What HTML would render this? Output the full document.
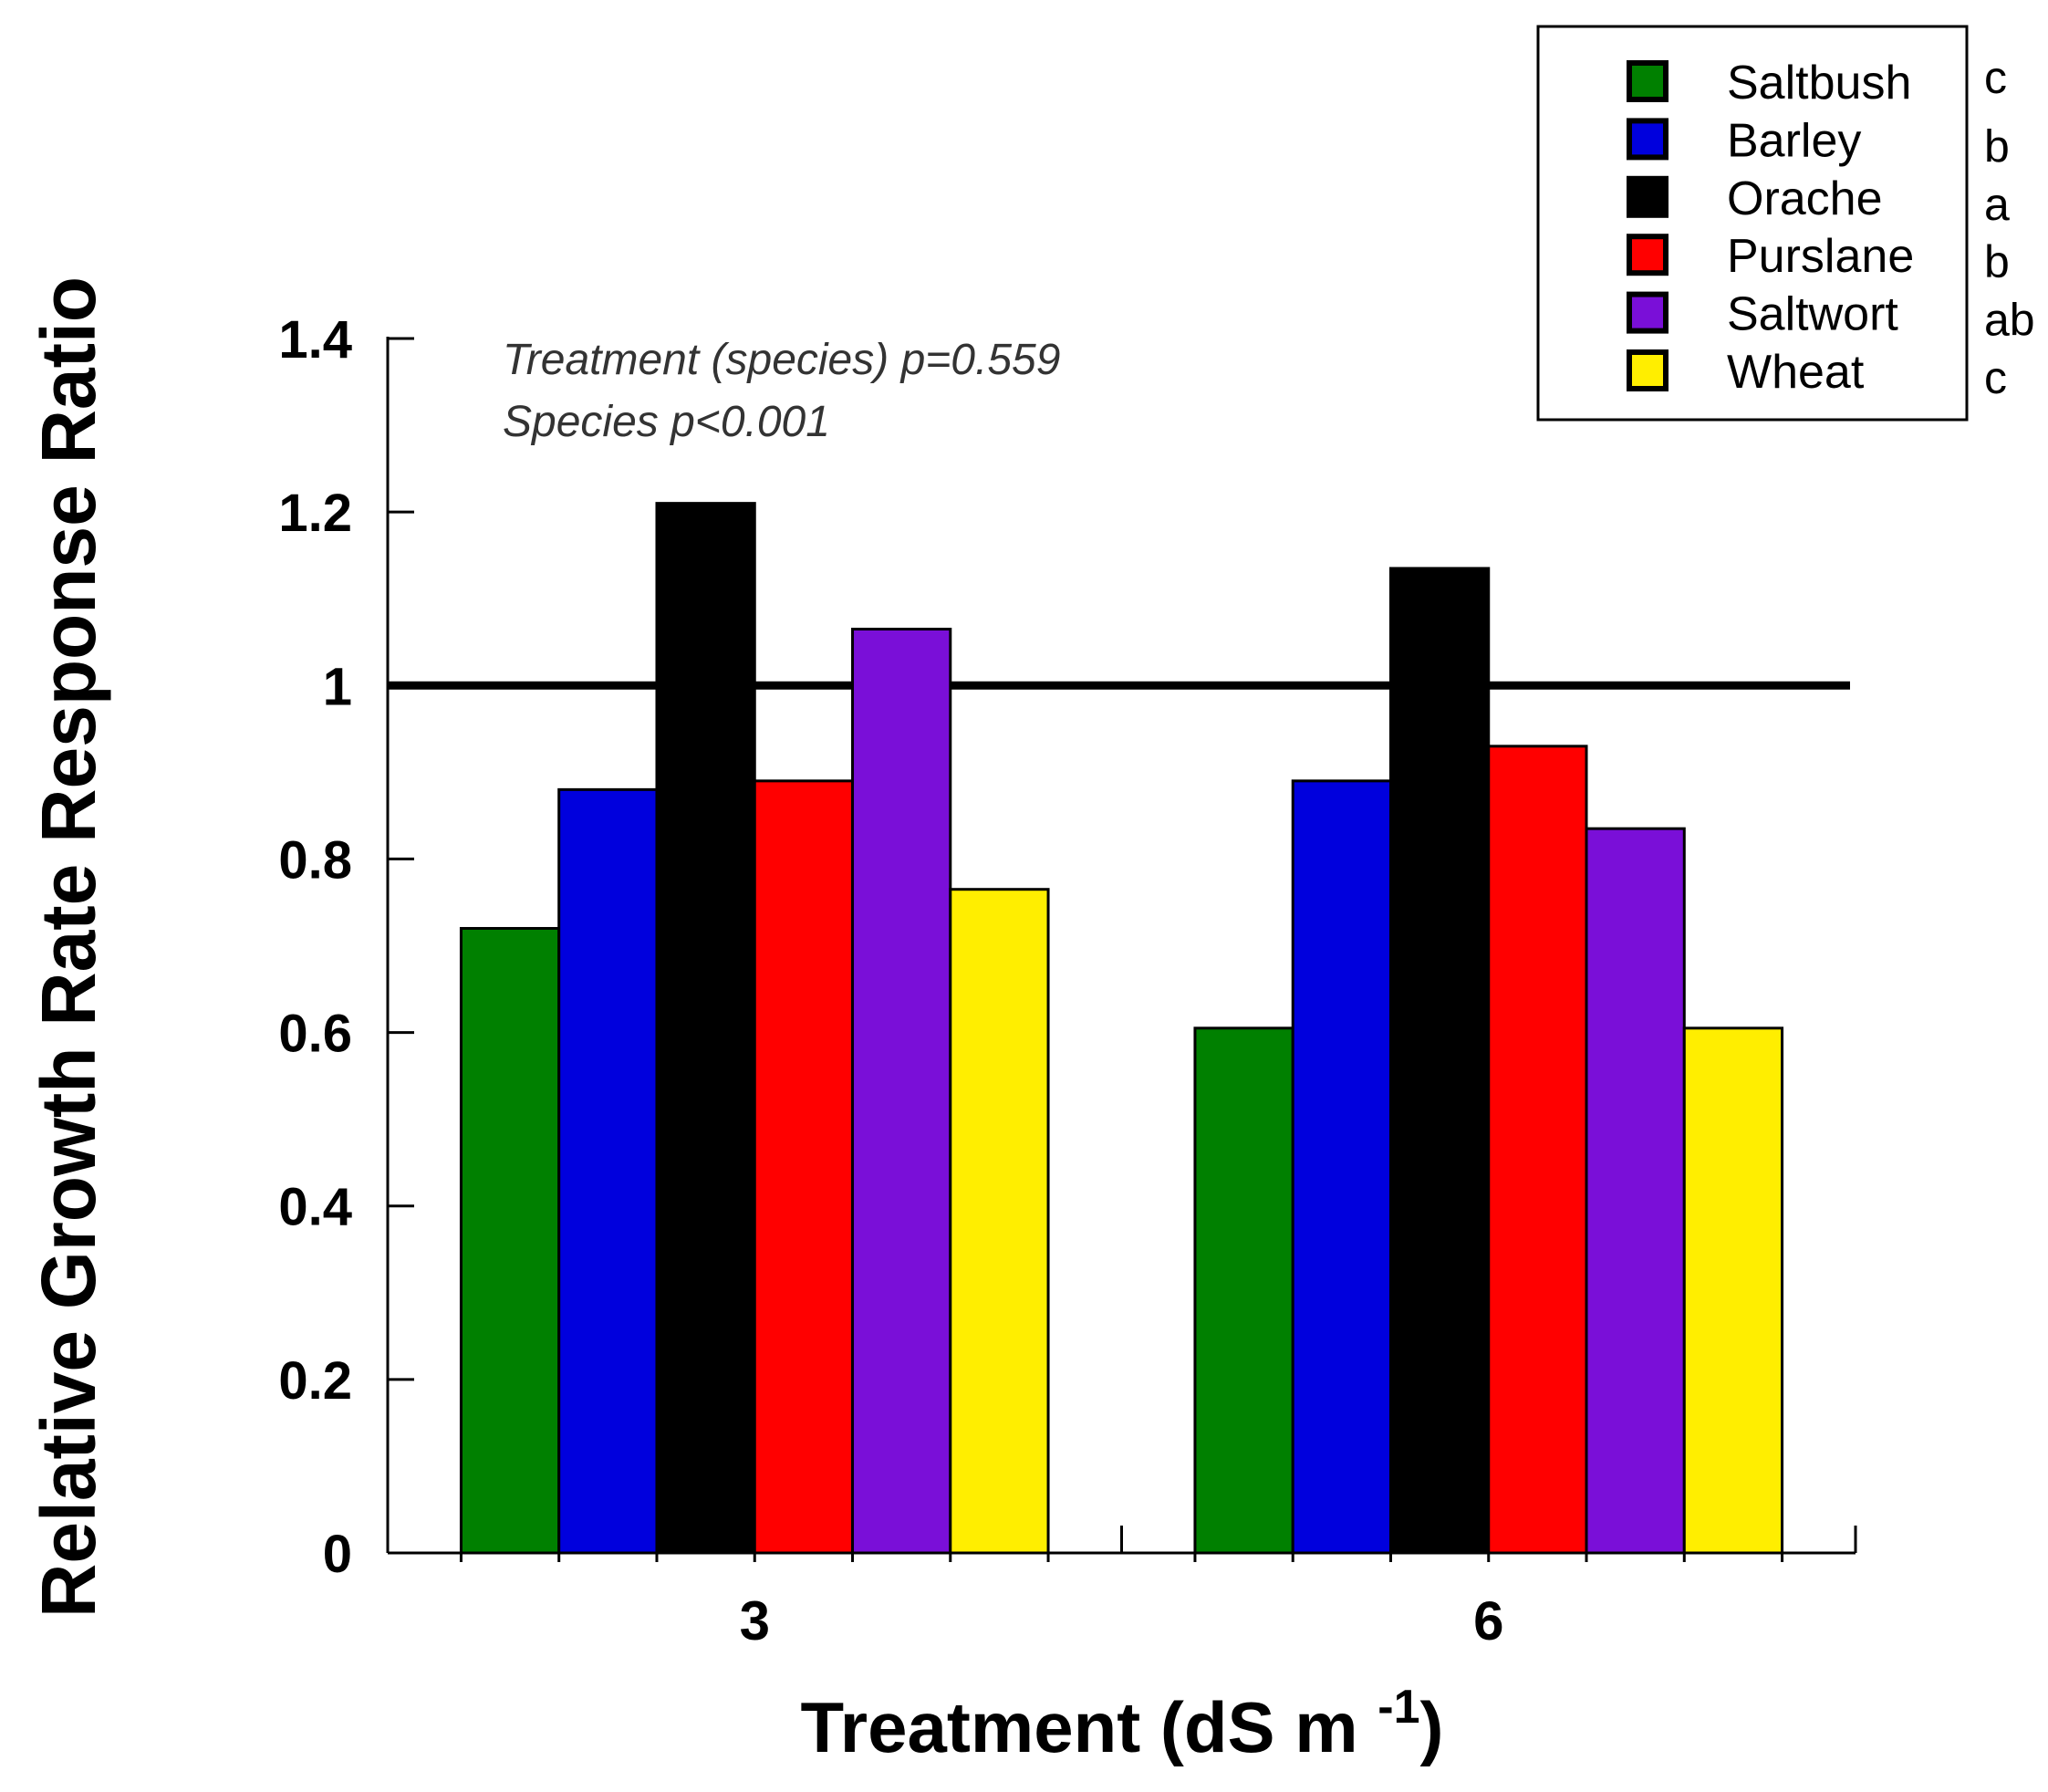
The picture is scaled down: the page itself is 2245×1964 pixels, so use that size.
<!DOCTYPE html>
<html><head><meta charset="utf-8"><style>
html,body{margin:0;padding:0;background:#fff;}
svg{display:block;}
text{font-family:"Liberation Sans",Arial,sans-serif;}
</style></head><body>
<svg id="chart" width="2245" height="1964" viewBox="0 0 2245 1964" xmlns="http://www.w3.org/2000/svg">
<g id="axes"></g>
<g id="bars"></g>
<g id="legend"></g>
<text x="551" y="410" font-size="48" font-style="italic" fill="#333">Treatment (species) p=0.559</text>
<text x="551" y="478" font-size="48" font-style="italic" fill="#333">Species p&lt;0.001</text>
<text x="1230" y="1920" font-size="78" font-weight="bold" text-anchor="middle">Treatment (dS m <tspan dy="-32" font-size="52">-1</tspan><tspan dy="32">)</tspan></text>
<text transform="translate(104,1038) rotate(-90)" font-size="84" font-weight="bold" text-anchor="middle" textLength="1470" lengthAdjust="spacingAndGlyphs">Relative Growth Rate Response Ratio</text>
</svg>
<script>
const categories = ["3", "6"];
const species = ["Saltbush", "Barley", "Orache", "Purslane", "Saltwort", "Wheat"];
const letters = ["c", "b", "a", "b", "ab", "c"];
const colors = ["#008000", "#0000dd", "#000000", "#ff0000", "#7a0fd8", "#ffee00"];
const saltbush = [0.72, 0.605];
const barley = [0.88, 0.89];
const orache = [1.21, 1.135];
const purslane = [0.89, 0.93];
const saltwort = [1.065, 0.835];
const wheat = [0.765, 0.605];
const yTicks = [0, 0.2, 0.4, 0.6, 0.8, 1, 1.2, 1.4];
const yTickLabels = ["0", "0.2", "0.4", "0.6", "0.8", "1", "1.2", "1.4"];
const refValue = 1;

const series = [saltbush, barley, orache, purslane, saltwort, wheat];
const NS = "http://www.w3.org/2000/svg";
const X0 = 425, X1 = 2034, Y0 = 1702, Y1 = 371, YMAX = 1.4;
function y(v){ return Y0 - (v / YMAX) * (Y0 - Y1); }
const band = (X1 - X0) / categories.length;
function xCenter(i){ return X0 + band * (i + 0.5); }
const groupW = band * 0.8, barW = groupW / species.length;
function mk(tag, attrs, parent){ const e = document.createElementNS(NS, tag); for (const k in attrs) e.setAttribute(k, attrs[k]); parent.appendChild(e); return e; }

const axes = document.getElementById('axes');
const bars = document.getElementById('bars');
const legend = document.getElementById('legend');

categories.forEach((c, ci) => {
  const gx = xCenter(ci) - groupW / 2;
  series.forEach((s, si) => {
    const r = mk('rect', {x: gx + si * barW, y: y(s[ci]), width: barW, height: Y0 - y(s[ci]), fill: colors[si], stroke: '#000', 'stroke-width': 3}, bars);
    
    
  });
  for (let k = 0; k <= species.length; k++) {
    const t = mk('line', {x1: gx + k * barW, x2: gx + k * barW, y1: Y0, y2: Y0 + 10, stroke: '#000', 'stroke-width': 3}, axes);
    
    
  }
  const lb = mk('text', {x: xCenter(ci), y: Y0 + 95, 'font-size': 60, 'font-weight': 'bold', 'text-anchor': 'middle'}, axes);
  lb.textContent = c;
  
  
});

const ya = mk('line', {x1: X0, x2: X0, y1: Y1 - 2, y2: Y0, stroke: '#000', 'stroke-width': 3}, axes);


const xa = mk('line', {x1: X0, x2: X1, y1: Y0, y2: Y0, stroke: '#000', 'stroke-width': 3}, axes);


for (let i = 1; i <= categories.length; i++) {
  const t = mk('line', {x1: X0 + band * i, x2: X0 + band * i, y1: Y0, y2: Y0 - 30, stroke: '#000', 'stroke-width': 3}, axes);
  
  
}
yTicks.forEach((v, i) => {
  const t = mk('line', {x1: X0, x2: X0 + 29, y1: y(v), y2: y(v), stroke: '#000', 'stroke-width': 3}, axes);
  
  
  const l = mk('text', {x: 386, y: y(v) + 21, 'font-size': 58, 'font-weight': 'bold', 'text-anchor': 'end'}, axes);
  l.textContent = yTickLabels[i];
  
  
});
const ref = mk('line', {x1: X0, x2: 2028, y1: y(refValue), y2: y(refValue), stroke: '#000', 'stroke-width': 9}, axes);



const box = mk('rect', {x: 1686, y: 29, width: 470, height: 431, fill: 'none', stroke: '#000', 'stroke-width': 3}, legend);


species.forEach((sp, i) => {
  const cy = 89 + i * 63.4;
  const sw = mk('rect', {x: 1786, y: cy - 20, width: 40, height: 40, fill: colors[i], stroke: '#000', 'stroke-width': 6}, legend);
  
  
  const t = mk('text', {x: 1893, y: cy + 19, 'font-size': 52}, legend);
  t.textContent = sp;
  
  
  const l = mk('text', {x: 2175, y: cy + 19 + (i === 0 ? -6 : 6), 'font-size': 50}, legend);
  l.textContent = letters[i];
  
  
});
</script>
</body></html>
